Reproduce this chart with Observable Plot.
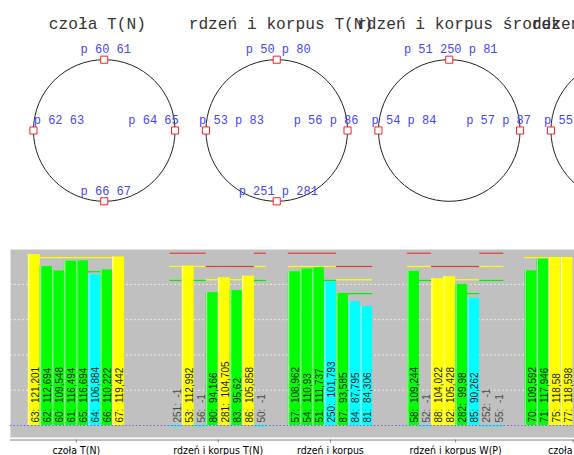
<!DOCTYPE html>
<html><head><meta charset="utf-8">
<script src="https://cdn.jsdelivr.net/npm/d3@7"></script>
<script src="https://cdn.jsdelivr.net/npm/@observablehq/plot@0.6"></script>
<style>
body{margin:0;background:#fff;width:574px;height:455px;overflow:hidden}
svg{display:block}
</style></head><body>
<div id="top"></div><div id="bottom"></div>
<script>
// ---------- data: probe layout (top) ----------
const circleTitles = ["czoła T(N)", "rdzeń i korpus T(N)", "rdzeń i korpus środek", "rdzeń i korpus W(P)"];
const probeCircle = [0, 0, 0, 0, 1, 1, 1, 1, 2, 2, 2, 3];
const probeSide = ["top", "left", "right", "bottom", "top", "left", "right", "bottom", "top", "left", "right", "left"];
const probeText = ["p 60 61", "p 62 63", "p 64 65", "p 66 67",
  "p 50 p 80", "p 53 p 83", "p 56 p 86", "p 251 p 281",
  "p 51 250 p 81", "p 54 p 84", "p 57 p 87", "p 55 p 85"];

// ---------- data: bar chart ----------
const groupNames = ["czoła T(N)", "rdzeń i korpus T(N)", "rdzeń i korpus", "rdzeń i korpus W(P)", "czoła W(P)"];
const barGroup = [0,0,0,0,0,0,0,0, 1,1,1,1,1,1,1,1, 2,2,2,2,2,2,2, 3,3,3,3,3,3,3,3, 4,4,4,4];
const barId = [63,62,60,61,65,64,66,67, 251,53,56,80,281,83,86,50, 57,54,51,250,87,84,81, 58,52,88,82,282,85,252,55, 70,71,75,77];
const barValue = [121.201,112.694,109.548,116.494,116.694,106.884,110.222,119.442,
  -1,112.992,-1,94.166,104.705,95.62,105.858,-1,
  108.962,110.93,111.737,101.793,93.585,87.795,84.306,
  109.244,-1,104.022,105.428,99.98,90.262,-1,-1,
  109.592,117.946,118.58,118.598];
const barKind = ["Y","G","G","G","G","C","G","Y", "C","Y","C","G","Y","G","Y","C",
  "G","G","G","C","G","C","C", "G","C","Y","Y","G","C","C","C", "G","G","Y","Y"];
const barLevel = ["C","C","C","C","C","C","C","C", "A","A","A","B","B","B","B","A",
  "A","A","A","A","B","B","B", "A","A","B","B","B","B","A","A", "C","C","C","C"];
const levelKeys = ["A", "B", "C"];
const levelRed = [122.1, 112.7, null];
const levelYellow = [112.7, 103.3, 119.0];
const levelGreen = [102.8, 93.5, 109.0];
const gridValues = [25, 50, 75, 100];

// ---------- layout / style ----------
const W = 574;
const pitch = 172.5;          // px between circle centres
const cx0 = 103.75, cy0 = 130; // first circle centre (px)
const Rpx = 70.8;
const R = Rpx / pitch;
const titleShiftPx = [-6.9, 4.2, 9.8, 2.4];
const mono = "'Liberation Mono', 'DejaVu Sans Mono', monospace";
const sans = "'Liberation Sans', Arial, sans-serif";
const narrow = "'Liberation Sans Narrow', 'DejaVu Sans Condensed', 'Liberation Sans', sans-serif";

const probes = probeText.map((t, i) => {
  const c = probeCircle[i], s = probeSide[i];
  const x = c + (s === "left" ? -R : s === "right" ? R : 0);
  const y = s === "top" ? R : s === "bottom" ? -R : 0;
  return {text: t, side: s, x, y};
});
const labelDx = {top: 1.5, bottom: 1.5, left: 25.5, right: -21.5};

const topPlot = Plot.plot({
  width: W, height: 240,
  marginTop: 0, marginBottom: 0, marginLeft: 0, marginRight: 0,
  x: {domain: [-cx0 / pitch, (W - cx0) / pitch], axis: null},
  y: {domain: [-(240 - cy0) / pitch, cy0 / pitch], axis: null},
  style: {background: "white"},
  marks: [
    Plot.dot(circleTitles.map((t, i) => i), {x: d => d, y: 0, r: Rpx, stroke: "#222", fill: "none", strokeWidth: 1}),
    Plot.dot(probes, {x: "x", y: "y", symbol: "square", r: 4, stroke: "#ff2020", fill: "white", strokeWidth: 1}),
    ...["top", "bottom", "left", "right"].map(s =>
      Plot.text(probes.filter(p => p.side === s), {
        x: "x", y: "y", text: "text", textAnchor: "middle", lineAnchor: "bottom",
        dx: labelDx[s], dy: -6.7, fill: "#4444ff", fontFamily: mono, fontSize: 12
      })),
    Plot.text(circleTitles, {
      x: (d, i) => i + titleShiftPx[i] / pitch, y: (cy0 - 28.5) / pitch, text: d => d,
      textAnchor: "middle", lineAnchor: "bottom", fill: "#333", fontFamily: mono, fontSize: 16.2
    })
  ]
});
document.getElementById("top").appendChild(topPlot);

// ---------- bar chart ----------
const slotPx = 12.05;
const frameLeft = 10;
const groupStart = [1.469, 13.24, 23.05, 32.94, 42.68]; // slot units
const groupSlots = [8, 8, 7, 8, 8];
const groupCenters = groupStart.map((s, i) => s + groupSlots[i] / 2);
const nameByCenter = new Map(groupCenters.map((c, i) => [c, groupNames[i]]));

const counters = {};
const bars = barId.map((id, i) => {
  const g = barGroup[i];
  const j = counters[g] = (counters[g] ?? -1) + 1;
  const x1 = groupStart[g] + j;
  return {id, g, value: barValue[i], kind: barKind[i], level: barLevel[i], x1, x2: x1 + 1};
});
const kindColor = {Y: "#ffff00", G: "#00ff00", C: "#00ffff"};
const fmt = v => String(v).replace(".", ",");

const thresholds = [];
bars.forEach(b => {
  const li = levelKeys.indexOf(b.level);
  [["red", levelRed[li], "#e03c3c"], ["yellow", levelYellow[li], "#ffff00"], ["green", levelGreen[li], "#00ee00"]]
    .forEach(([k, v, c]) => { if (v != null) thresholds.push({x1: b.x1, x2: b.x2, y: v, color: c}); });
});

const yMin = -8.5, yMax = 124.74;
const bottomPlot = Plot.plot({
  width: W, height: 215,
  marginTop: 9, marginBottom: 18, marginLeft: frameLeft, marginRight: 0,
  x: {domain: [0, (W - frameLeft) / slotPx], axis: null},
  y: {domain: [yMin, yMax], axis: null},
  style: {background: "white", fontFamily: sans, fontSize: "10px"},
  marks: [
    Plot.frame({fill: "#c0c0c0", stroke: null}),
    Plot.ruleY(gridValues, {stroke: "#ececec", strokeDasharray: "2,2", strokeWidth: 1}),
    Plot.ruleY(thresholds, {x1: "x1", x2: "x2", y: "y", stroke: d => d.color, strokeWidth: 1.2}),
    Plot.rect(bars, {x1: "x1", x2: "x2", y1: 0, y2: "value", fill: d => kindColor[d.kind]}),
    Plot.ruleX(bars.filter(b => b.value > 0), {x: "x1", y1: 0, y2: "value", stroke: "white", strokeOpacity: 0.75, dx: 0.5}),
    Plot.text(bars, {
      x: d => d.x1 + 0.5, y: 0, text: d => `${d.id}:\u00a0\u00a0${fmt(d.value)}`,
      rotate: -90, textAnchor: "start", lineAnchor: "middle", dy: -3, dx: 1.5,
      fill: d => d.value < 0 ? "#4a4a4a" : "#1a1a1a", fontFamily: sans, fontSize: 10
    }),
    Plot.ruleY([0], {stroke: "#6a6af0", strokeDasharray: "1.5,2", strokeWidth: 1}),
    Plot.ruleY([yMin], {stroke: "#808080", dy: 2.5}),
    Plot.axisX({
      ticks: groupCenters, tickFormat: d => nameByCenter.get(d),
      tickSize: 3, tickPadding: 3.5, dy: 2.5, stroke: "#808080", fill: "#000",
      fontFamily: narrow, fontSize: 10.5, label: null
    })
  ]
});
document.getElementById("bottom").appendChild(bottomPlot);
</script>
</body></html>
